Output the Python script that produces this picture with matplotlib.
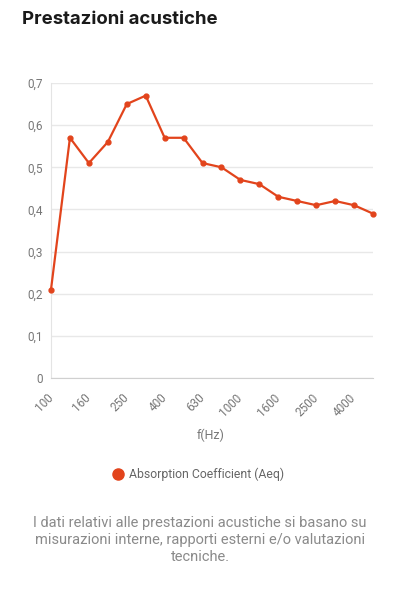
import matplotlib
matplotlib.use('Agg')
from matplotlib import pyplot as plt

freqs = ['100', '125', '160', '200', '250', '315', '400', '500', '630', '800',
         '1000', '1250', '1600', '2000', '2500', '3150', '4000', '5000']
absorption = [0.21, 0.57, 0.51, 0.56, 0.65, 0.67, 0.57, 0.57, 0.51, 0.50,
              0.47, 0.46, 0.43, 0.42, 0.41, 0.42, 0.41, 0.39]
y_ticks = [0, 0.1, 0.2, 0.3, 0.4, 0.5, 0.6, 0.7]
y_labels = ['0', '0,1', '0,2', '0,3', '0,4', '0,5', '0,6', '0,7']

color = '#e2441c'
grey = '#777777'

fig = plt.figure(figsize=(4, 6), dpi=100)
fig.patch.set_facecolor('white')

fig.text(22 / 400, 1 - 20 / 600, 'Prestazioni acustiche', family='Inter',
         fontsize=13.4, fontweight='bold', color='#1a1a1a', va='center', ha='left')

ax = fig.add_axes([51 / 400, 1 - 378 / 600, 322 / 400, 295 / 600])
x = list(range(len(freqs)))
ax.plot(x, absorption, color=color, lw=1.6, marker='o', ms=3.5, zorder=3,
        clip_on=False)
ax.set_xlim(0, len(freqs) - 1)
ax.set_ylim(0, 0.7)
ax.set_yticks(y_ticks)
ax.set_yticklabels(y_labels, family='Roboto', fontsize=8.5, color=grey)
ax.set_xticks(x[::2])
ax.set_xticklabels(freqs[::2], family='Roboto', fontsize=8.5, color=grey,
                   rotation=45, ha='right', va='center', rotation_mode='anchor')
ax.tick_params(axis='y', length=0, pad=6)
ax.tick_params(axis='x', length=0, pad=13)
ax.grid(axis='y', color='#e8e8e8', lw=1)
ax.set_axisbelow(True)
for s in ['top', 'right']:
    ax.spines[s].set_visible(False)
ax.spines['left'].set_color('#e4e4e4')
ax.spines['bottom'].set_color('#d0d0d0')

fig.text(211 / 400, 1 - 435 / 600, 'f(Hz)', family='Roboto', fontsize=9,
         color=grey, ha='center', va='center')

# legend
fig.lines.append(plt.Line2D([118 / 400], [1 - 474 / 600], marker='o', ms=8,
                            color=color, transform=fig.transFigure))
fig.text(129 / 400, 1 - 474 / 600, 'Absorption Coefficient (Aeq)',
         family='Roboto', fontsize=8.8, color='#666666', ha='left', va='center')

fig.text(200 / 400, 1 - 540 / 600,
         'I dati relativi alle prestazioni acustiche si basano su\n'
         'misurazioni interne, rapporti esterni e/o valutazioni\n'
         'tecniche.', family='Roboto', fontsize=10.5, color='#8a8a8a',
         ha='center', va='center', linespacing=1.3)

fig.savefig('out.png', dpi=100)
